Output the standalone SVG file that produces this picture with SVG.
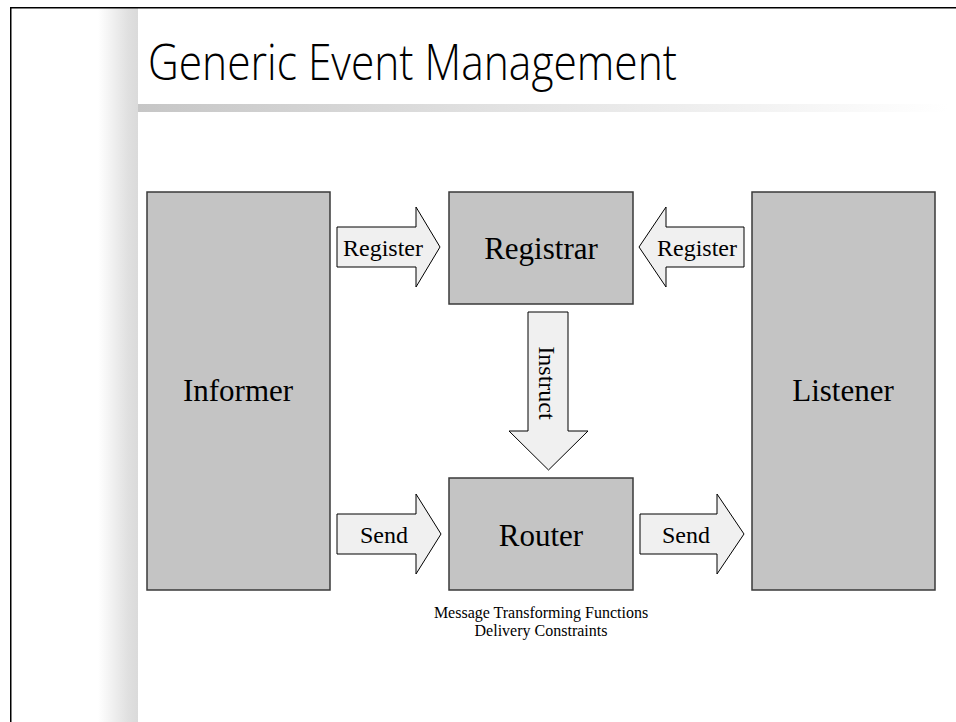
<svg xmlns="http://www.w3.org/2000/svg" width="956" height="722" viewBox="0 0 956 722">
  <defs>
    <linearGradient id="sideGrad" x1="0" y1="0" x2="1" y2="0">
      <stop offset="0" stop-color="#ffffff"/>
      <stop offset="0.75" stop-color="#e0e0e0"/>
      <stop offset="1" stop-color="#dadada"/>
    </linearGradient>
    <linearGradient id="barGrad" x1="0" y1="0" x2="1" y2="0">
      <stop offset="0" stop-color="#c6c6c6"/>
      <stop offset="0.45" stop-color="#e2e2e2"/>
      <stop offset="1" stop-color="#ffffff"/>
    </linearGradient>
    <style>
      .box { fill: #c4c4c4; stroke: #3a3a3a; stroke-width: 1.5; }
      .arrow { fill: #f0f0f0; stroke: #000000; stroke-width: 1; stroke-linejoin: miter; }
      .big { font-family: "Liberation Serif", "Times New Roman", serif; font-size: 31px; fill: #000; text-anchor: middle; }
      .small { font-family: "Liberation Serif", "Times New Roman", serif; font-size: 24px; fill: #000; text-anchor: middle; }
      .note { font-family: "Liberation Serif", "Times New Roman", serif; font-size: 16px; fill: #000; text-anchor: middle; }
      .title { font-family: "Open Sans", "Noto Sans", "DejaVu Sans", sans-serif; font-weight: 300; font-size: 49px; fill: #000; }
    </style>
  </defs>

  <rect x="0" y="0" width="956" height="722" fill="#ffffff"/>

  <!-- page decoration -->
  <g id="page">
    <rect x="98" y="8" width="40" height="714" fill="url(#sideGrad)"/>
    <rect x="138" y="104" width="810" height="8" fill="url(#barGrad)"/>
    <path d="M10.75 722 V7.75 H956" fill="none" stroke="#000" stroke-width="1.5"/>
    <text class="title" x="148" y="80" textLength="529" lengthAdjust="spacingAndGlyphs">Generic Event Management</text>
  </g>

  <g id="informer">
    <rect class="box" x="147" y="192" width="183" height="398"/>
    <text class="big" x="238" y="401">Informer</text>
  </g>

  <g id="listener">
    <rect class="box" x="752" y="192" width="183" height="398"/>
    <text class="big" x="843" y="401">Listener</text>
  </g>

  <g id="registrar">
    <rect class="box" x="449" y="192" width="184" height="112"/>
    <text class="big" x="541" y="259">Registrar</text>
  </g>

  <g id="router">
    <rect class="box" x="449" y="478" width="184" height="112"/>
    <text class="big" x="541" y="546">Router</text>
  </g>

  <g id="connectors">
    <g id="register-left">
      <polygon class="arrow" points="337,227 416,227 416,207 440,247 416,287 416,267 337,267"/>
      <text class="small" x="383" y="256">Register</text>
    </g>
    <g id="register-right">
      <polygon class="arrow" points="744,227 666,227 666,207 639,247 666,287 666,267 744,267"/>
      <text class="small" x="697" y="256">Register</text>
    </g>
    <g id="instruct">
      <polygon class="arrow" points="528,312 568,312 568,431 588,431 548.5,470 509,431 528,431"/>
      <text class="small" transform="translate(539,383) rotate(90)">Instruct</text>
    </g>
    <g id="send-left">
      <polygon class="arrow" points="337,514 416,514 416,494 441,534 416,574 416,554 337,554"/>
      <text class="small" x="384" y="543">Send</text>
    </g>
    <g id="send-right">
      <polygon class="arrow" points="640,514 717,514 717,494 744,534 717,574 717,554 640,554"/>
      <text class="small" x="686" y="543">Send</text>
    </g>
  </g>

  <g id="router-notes">
    <text class="note" x="541" y="618">Message Transforming Functions</text>
    <text class="note" x="541" y="636">Delivery Constraints</text>
  </g>
</svg>
